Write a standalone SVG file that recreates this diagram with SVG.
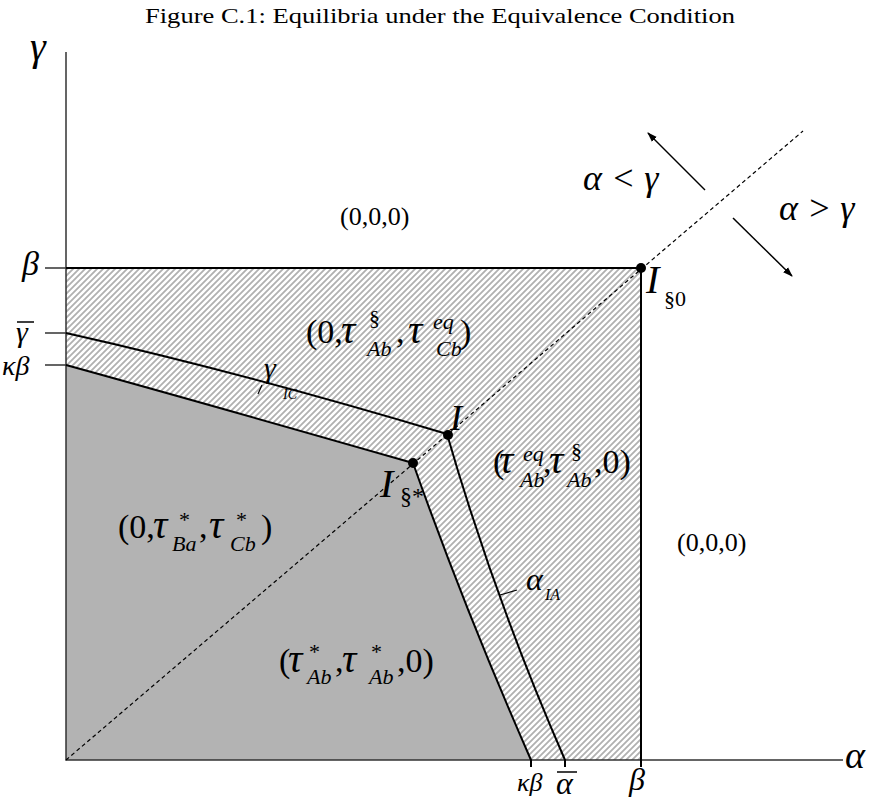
<svg xmlns="http://www.w3.org/2000/svg" width="878" height="800" viewBox="0 0 878 800" font-family="'Liberation Serif', 'Times New Roman', serif">
<style>
.t{font-family:"Liberation Serif","Times New Roman",serif;fill:#000}
.i{font-style:italic}
.m{font-size:34px}
.s{font-size:22px}
.tau{font-style:italic;font-size:40px}
.ln{fill:none;stroke:#000;stroke-width:2}
.ax{fill:none;stroke:#333;stroke-width:1.5}
</style>
<defs>
<pattern id="hatch" patternUnits="userSpaceOnUse" width="6" height="6">
<path d="M-1,1 L1,-1 M0,6 L6,0 M5,7 L7,5" stroke="#b0b0b0" stroke-width="1.8"/>
</pattern>
<marker id="arr" viewBox="0 0 10 10" refX="9" refY="5" markerWidth="10" markerHeight="10" markerUnits="userSpaceOnUse" orient="auto">
<path d="M0,1.5 L10,5 L0,8.5 Z" fill="#000"/>
</marker>
</defs>
<rect width="878" height="800" fill="#fff"/>
<text class="t" x="440" y="23" font-size="22" text-anchor="middle" textLength="590" lengthAdjust="spacingAndGlyphs">Figure C.1: Equilibria under the Equivalence Condition</text>

<g id="regions">
<rect id="hatched-region" x="66" y="268" width="575" height="492" fill="url(#hatch)"/>
<path id="grey-region" d="M66,365 Q200,402 413,463 Q465,610 531,760 L66,760 Z" fill="#b3b3b3"/>
</g>

<g id="axes">
<path class="ax" d="M66,52 L66,760 L843,760"/>
<path class="ax" d="M45,268 L66,268 M45,333 L66,333 M45,365 L66,365"/>
</g>

<g id="connectors">
<path class="ln" d="M66,268 L641,268"/>
<path class="ln" d="M641,268 L641,767"/>
<path class="ln" d="M66,333 Q240,372 447,434"/>
<path class="ln" d="M447,434 Q495,600 565,760 L565,767"/>
<path class="ln" d="M66,365 Q200,402 413,463"/>
<path class="ln" d="M413,463 Q465,610 531,760 L531,767"/>
<path d="M66,760 L803,131" fill="none" stroke="#000" stroke-width="1.2" stroke-dasharray="4,3"/>
<path d="M705,190 L648,133" fill="none" stroke="#000" stroke-width="1.5" marker-end="url(#arr)"/>
<path d="M733,218 L792,276" fill="none" stroke="#000" stroke-width="1.5" marker-end="url(#arr)"/>
<path d="M262,385 L258,394" fill="none" stroke="#000" stroke-width="1.2"/>
<path d="M500,595 L517,590" fill="none" stroke="#000" stroke-width="1.2"/>
</g>

<g id="axis-labels">
<text class="t i" x="30" y="60" font-size="40">γ</text>
<text class="t i" x="845" y="768" font-size="38">α</text>
<text class="t i" x="22" y="275" font-size="34">β</text>
<text class="t i" x="16" y="342" font-size="30">γ</text>
<path d="M17,322 L34,322" stroke="#000" stroke-width="1.5"/>
<text class="t i" x="2" y="375" font-size="28">κβ</text>
<text class="t i" x="517" y="791" font-size="26">κβ</text>
<text class="t i" x="556" y="794" font-size="32">α</text>
<path d="M557,772 L577,772" stroke="#000" stroke-width="1.5"/>
<text class="t i" x="629" y="790" font-size="32">β</text>
</g>

<g id="node-I-s0">
<circle cx="641" cy="268" r="5" fill="#000"/>
<text class="t i" x="646" y="293" font-size="40">I<tspan x="664" y="306" font-size="22" font-style="normal">§0</tspan></text>
</g>
<g id="node-I">
<circle cx="448" cy="435" r="5" fill="#000"/>
<text class="t i" x="450" y="430" font-size="36">I</text>
</g>
<g id="node-I-sstar">
<circle cx="413" cy="463" r="5" fill="#000"/>
<text class="t i" x="380" y="497" font-size="40">I<tspan x="400" y="504" font-size="24" font-style="normal">§*</tspan></text>
</g>

<g id="curve-labels">
<text class="t i" x="264" y="378" font-size="30">γ<tspan x="283" y="399" font-size="14">IC</tspan></text>
<text class="t i" x="526" y="590" font-size="32">α<tspan x="545" y="600" font-size="16">IA</tspan></text>
<text class="t i" x="583" y="190" font-size="36">α &lt; γ</text>
<text class="t i" x="779" y="220" font-size="36">α &gt; γ</text>
</g>

<g id="label-top-000"><text class="t" x="340" y="225" font-size="26">(0,0,0)</text></g>
<g id="label-right-000"><text class="t" x="677" y="551" font-size="26">(0,0,0)</text></g>

<g id="label-region-1">
<text class="t m" y="343"><tspan x="306">(0,</tspan><tspan class="tau" x="341">τ</tspan><tspan class="s" x="369" y="325">§</tspan><tspan class="i s" x="367" y="356">Ab</tspan><tspan x="396" y="343">,</tspan><tspan class="tau" x="408">τ</tspan><tspan class="i s" x="433" y="329">eq</tspan><tspan class="i s" x="436" y="356">Cb</tspan><tspan x="460" y="343">)</tspan></text>
</g>

<g id="label-region-2">
<text class="t m" y="473"><tspan x="493">(</tspan><tspan class="tau" x="499">τ</tspan><tspan class="i s" x="523" y="461">eq</tspan><tspan class="i s" x="520" y="487">Ab</tspan><tspan x="543" y="473">,</tspan><tspan class="tau" x="549">τ</tspan><tspan class="s" x="571" y="458">§</tspan><tspan class="i s" x="567" y="487">Ab</tspan><tspan x="594" y="473">,0)</tspan></text>
</g>

<g id="label-region-3">
<text class="t m" y="538"><tspan x="118">(0,</tspan><tspan class="tau" x="153">τ</tspan><tspan class="s" x="179" y="527">*</tspan><tspan class="i s" x="172" y="551">Ba</tspan><tspan x="199" y="538">,</tspan><tspan class="tau" x="209">τ</tspan><tspan class="s" x="236" y="527">*</tspan><tspan class="i s" x="230" y="551">Cb</tspan><tspan x="261" y="538">)</tspan></text>
</g>

<g id="label-region-4">
<text class="t m" y="672"><tspan x="279">(</tspan><tspan class="tau" x="288">τ</tspan><tspan class="s" x="309" y="659">*</tspan><tspan class="i s" x="307" y="684">Ab</tspan><tspan x="335" y="672">,</tspan><tspan class="tau" x="342">τ</tspan><tspan class="s" x="371" y="659">*</tspan><tspan class="i s" x="369" y="684">Ab</tspan><tspan x="397" y="672">,0)</tspan></text>
</g>
</svg>
